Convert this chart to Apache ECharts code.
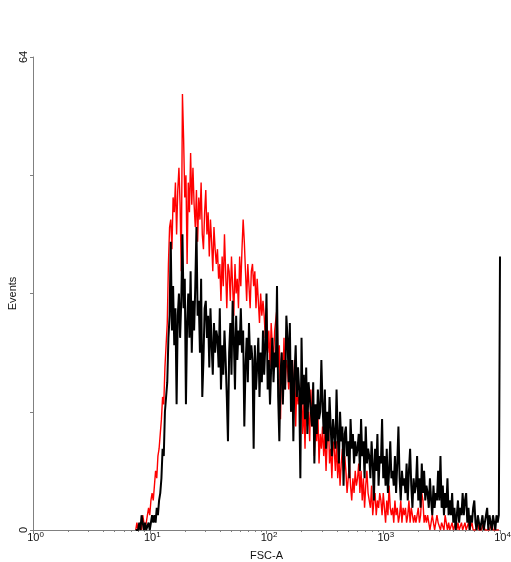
<!DOCTYPE html>
<html>
<head>
<meta charset="utf-8">
<script src="https://cdn.jsdelivr.net/npm/echarts/dist/echarts.min.js"></script>
<style>
html,body{margin:0;padding:0;background:#fff;}
#chart{width:511px;height:562px;}
</style>
</head>
<body>
<div id="chart"></div>
<script>
// Histogram bins: log10(FSC-A) bin centres start at 0.88, step 0.01 decade
var binStartLog = 0.88;
var binStepLog = 0.01;

// Red histogram counts (one value per bin)
var redCounts = [
0,1,0,0,1,0,2,1,0,1,
2,3,2,4,5,4,6,8,7,10,
11,13,15,18,17,22,25,28,36,41,
42,38,45,43,47,40,46,49,44,35,
59,53,45,48,36,47,43,51,44,49,
44,41,46,39,45,42,47,40,38,43,
46,40,43,37,42,39,35,41,38,36,
38,34,36,31,37,33,40,35,30,36,
35,31,37,33,29,36,32,34,30,37,
33,38,42,39,35,31,36,33,30,35,
36,33,35,30,34,31,28,32,29,31,
29,26,30,24,27,22,28,25,23,27,
27,30,22,25,15,24,20,26,19,23,
22,19,24,16,21,18,23,14,20,17,
18,15,20,13,17,11,19,14,16,12,
19,14,17,10,15,12,16,9,13,11,
14,10,13,8,12,15,9,11,7,12,
11,8,12,7,10,6,9,11,8,10,
8,5,7,9,6,4,7,5,8,6,
7,9,5,8,4,7,3,6,8,5,
5,3,6,2,4,5,2,4,3,5,
4,2,5,3,1,4,2,6,3,2,
3,1,4,2,3,1,2,4,1,3,
2,3,1,2,4,1,3,2,1,2,
1,2,3,1,2,5,4,1,2,1,
2,1,0,1,2,1,0,1,2,1,
1,0,1,1,0,2,1,0,1,0,
0,1,0,0,1,0,1,0,0,1,
0,0,1,0,0,1,0,0,1,0,
0,0,0,1,0,0,0,0,1,0,
0,0,0,0,0,1,0,0,0,0,
0,0
];

// Black histogram counts (one value per bin)
var blackCounts = [
0,0,0,1,0,2,1,0,1,0,
0,1,0,1,2,1,2,1,3,2,
4,5,7,11,10,16,18,20,26,29,
39,27,33,25,30,17,29,32,26,31,
40,30,34,17,28,32,26,35,24,31,
27,33,41,29,31,24,34,18,23,30,
31,26,29,22,30,25,21,28,24,27,
26,22,30,19,25,21,27,23,18,12,
24,28,21,31,26,19,29,23,27,25,
30,24,27,14,22,26,20,28,23,25,
23,11,25,19,22,26,18,24,20,27,
21,25,32,19,23,17,22,26,20,24,
22,33,18,12,21,24,17,23,19,29,
26,20,28,16,23,12,21,25,18,22,
19,7,26,17,21,15,22,13,20,18,
18,14,20,9,17,13,19,15,16,23,
17,13,19,11,16,12,18,14,10,15,
15,11,19,13,9,16,12,14,6,13,
14,10,12,7,15,11,13,9,12,10,
11,13,8,15,10,12,7,14,9,11,
10,7,12,9,4,11,8,13,6,10,
9,15,7,10,6,11,5,8,12,7,
8,6,10,5,9,14,7,4,8,6,
7,5,9,4,8,11,6,3,7,5,
6,10,4,7,3,9,5,8,4,6,
5,3,7,4,2,6,3,5,4,8,
4,10,3,6,2,5,3,7,2,4,
2,5,1,3,0,2,4,1,3,2,
5,2,4,5,1,3,0,2,1,3,
4,1,0,2,1,0,1,2,0,1,
1,3,0,2,1,0,2,1,0,2,
1,2
];

// Off-scale (top channel) events of the black histogram
var blackOverflowFsc = 10000;
var blackOverflowCount = 37;

// Axis ticks
var xMajorTicks = [1, 10, 100, 1000, 10000];
var yTicks = [0, 16, 32, 48, 64];
var yLabelled = [0, 64];

function toPoints(counts) {
  return counts.map(function (c, i) {
    return [Math.pow(10, binStartLog + i * binStepLog), c];
  });
}
var redData = toPoints(redCounts);
var blackData = toPoints(blackCounts);
blackData.push([blackOverflowFsc, blackOverflowCount]);

var xMinorTicks = [];
for (var d = 0; d < xMajorTicks.length - 1; d++) {
  for (var m = 2; m <= 9; m++) xMinorTicks.push(xMajorTicks[d] * m);
}

var FONT = '"Liberation Sans", Arial, sans-serif';
var chart = echarts.init(document.getElementById('chart'), null, {renderer: 'canvas'});
chart.setOption({
  animation: false,
  backgroundColor: '#ffffff',
  grid: {left: 33, right: 11, top: 57, bottom: 32, containLabel: false, outerBoundsMode: 'none'},
  xAxis: [{
    type: 'log', logBase: 10, min: 1, max: 10000,
    axisLine: {show: true, lineStyle: {color: '#808080', width: 1}},
    axisTick: {show: true, length: 4, customValues: xMajorTicks, lineStyle: {color: '#808080'}},
    axisLabel: {
      show: true, margin: 1, customValues: xMajorTicks,
      formatter: function (v) {
        var e = Math.round(Math.log(v) / Math.LN10);
        return '{b|10}{s|' + e + '}';
      },
      rich: {
        b: {fontSize: 11, fontFamily: FONT, color: '#111', lineHeight: 13, padding: [0, 0, 0, 5]},
        s: {fontSize: 8, fontFamily: FONT, color: '#111', lineHeight: 8, verticalAlign: 'top'}
      }
    },
    splitLine: {show: false},
    name: 'FSC-A', nameLocation: 'middle', nameGap: 20, nameMoveOverlap: false,
    nameTextStyle: {fontSize: 11, fontFamily: FONT, color: '#111'}
  }, {
    type: 'log', logBase: 10, min: 1, max: 10000, position: 'bottom',
    axisLine: {show: false},
    axisTick: {show: true, length: 2, customValues: xMinorTicks, lineStyle: {color: '#808080'}},
    axisLabel: {show: false},
    splitLine: {show: false}
  }],
  yAxis: {
    type: 'value', min: 0, max: 64, interval: 16,
    axisLine: {show: true, lineStyle: {color: '#808080', width: 1}},
    axisTick: {show: true, length: 3, customValues: yTicks, lineStyle: {color: '#808080'}},
    axisLabel: {
      show: true, rotate: 90, margin: 4, customValues: yLabelled,
      fontSize: 11, fontFamily: FONT, color: '#111'
    },
    splitLine: {show: false},
    name: 'Events', nameLocation: 'middle', nameGap: 15, nameRotate: 90, nameMoveOverlap: false,
    nameTextStyle: {fontSize: 11, fontFamily: FONT, color: '#111'}
  },
  series: [{
    name: 'red', type: 'line', xAxisIndex: 0, data: redData,
    showSymbol: false, symbol: 'none', clip: true,
    lineStyle: {color: '#ff0000', width: 1.4}, z: 2
  }, {
    name: 'black', type: 'line', xAxisIndex: 0, data: blackData,
    showSymbol: false, symbol: 'none', clip: true,
    lineStyle: {color: '#000000', width: 2}, z: 3
  }]
});
</script>
</body>
</html>
